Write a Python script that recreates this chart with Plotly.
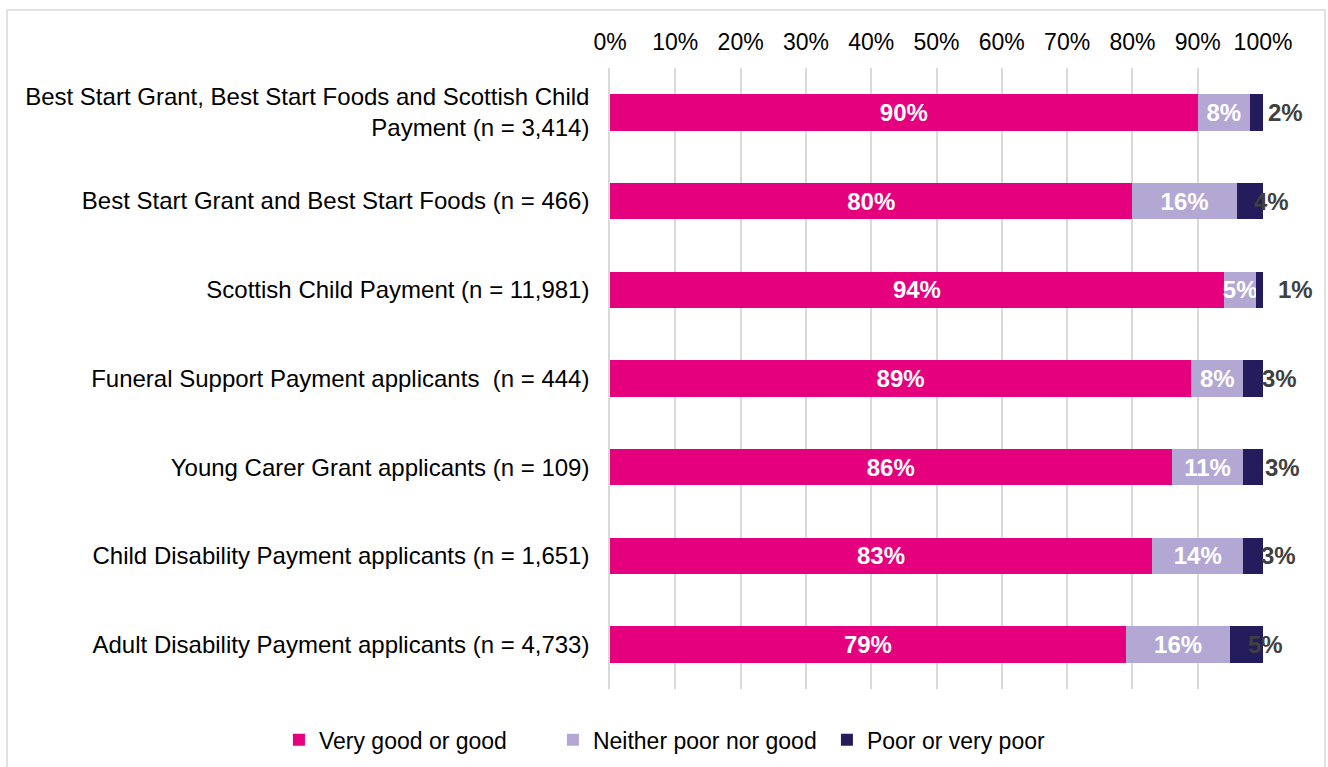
import plotly.graph_objects as go

# Survey results: rating of the application process, by benefit group
categories = [
    "Best Start Grant, Best Start Foods and Scottish Child<br>Payment (n = 3,414)",
    "Best Start Grant and Best Start Foods (n = 466)",
    "Scottish Child Payment (n = 11,981)",
    "Funeral Support Payment applicants  (n = 444)",
    "Young Carer Grant applicants (n = 109)",
    "Child Disability Payment applicants (n = 1,651)",
    "Adult Disability Payment applicants (n = 4,733)",
]
very_good_or_good = [90, 80, 94, 89, 86, 83, 79]
neither = [8, 16, 5, 8, 11, 14, 16]
poor_or_very_poor = [2, 4, 1, 3, 3, 3, 5]
tick_values = [0, 10, 20, 30, 40, 50, 60, 70, 80, 90, 100]
tick_labels = [f"{v}%" for v in tick_values]

# horizontal nudge (px) for the small end-of-bar labels
poor_label_shift = [29, 22, 36, 26, 29, 25, 19]

FONT = "Liberation Sans, Arial, sans-serif"
PINK = "#E5007D"
LAVENDER = "#B3A8D4"
NAVY = "#241C5C"

fig = go.Figure()
fig.add_trace(go.Bar(
    y=categories, x=very_good_or_good, orientation="h", name="Very good or good",
    marker=dict(color=PINK, line=dict(width=0)),
    text=[f"{v}%" for v in very_good_or_good], textposition="inside",
    insidetextanchor="middle", textangle=0,
    textfont=dict(family=FONT, size=24, color="white", weight="bold"),
))
fig.add_trace(go.Bar(
    y=categories, x=neither, orientation="h", name="Neither poor nor good",
    marker=dict(color=LAVENDER, line=dict(width=0)),
    text=[f"{v}%" for v in neither], textposition="inside",
    insidetextanchor="middle", textangle=0, constraintext="none",
    textfont=dict(family=FONT, size=24, color="white", weight="bold"),
))
fig.add_trace(go.Bar(
    y=categories, x=poor_or_very_poor, orientation="h", name="Poor or very poor",
    marker=dict(color=NAVY, line=dict(width=0)),
))

# labels for the thin "poor" segments, drawn at the bar end
for cat, good, mid, poor, dx in zip(categories, very_good_or_good, neither,
                                    poor_or_very_poor, poor_label_shift):
    fig.add_annotation(
        x=good + mid + poor / 2, y=cat, text=f"{poor}%", showarrow=False,
        xshift=dx, font=dict(family=FONT, size=24, color="#404040", weight="bold"),
    )

fig.update_layout(
    barmode="stack",
    bargap=0.59,
    width=1328, height=767,
    margin=dict(l=610, r=65, t=68, b=78, autoexpand=False),
    paper_bgcolor="white", plot_bgcolor="white",
    font=dict(family=FONT, size=23, color="black"),
    legend=dict(orientation="h", x=-0.507, xanchor="left", xref="paper",
                y=-0.082, yanchor="middle", yref="paper",
                font=dict(family=FONT, size=23, color="black"),
                itemwidth=30, tracegroupgap=0, traceorder="normal",
                entrywidth=229, entrywidthmode="pixels"),
    shapes=[dict(type="rect", xref="paper", yref="paper",
                 x0=-0.9234, x1=1.0949, y0=-0.2, y1=1.0934,
                 line=dict(color="#D9D9D9", width=1.5), fillcolor="rgba(0,0,0,0)",
                 layer="below")],
)
fig.update_xaxes(
    range=[0, 100], side="top", tickvals=tick_values, ticktext=tick_labels,
    showgrid=True, gridcolor="#D9D9D9", gridwidth=1.5, zeroline=False,
    showline=False, ticks="", ticklabelstandoff=12, automargin=False,
    tickfont=dict(family=FONT, size=23, color="black"),
)
fig.update_yaxes(
    autorange="reversed", ticks="", showline=True, linecolor="#D9D9D9",
    linewidth=1.5, ticklabelstandoff=14, automargin=False,
    tickfont=dict(family=FONT, size=24, color="black"),
)

fig.write_html("out.html")
